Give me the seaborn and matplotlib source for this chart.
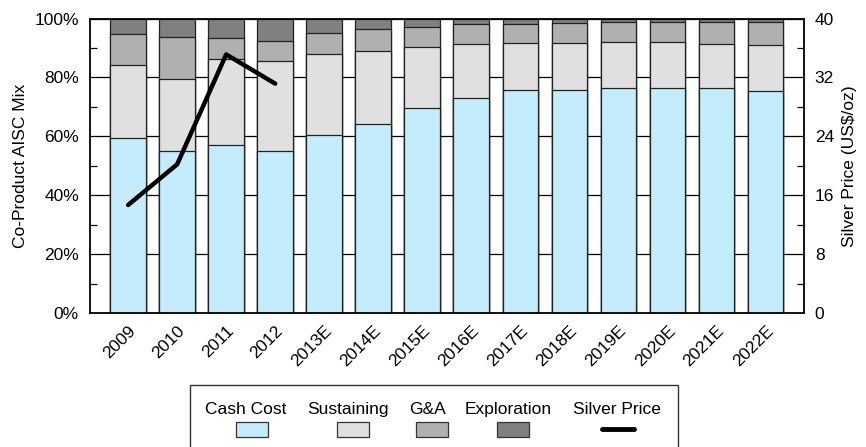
import numpy as np
import pandas as pd
import seaborn as sns
import matplotlib.pyplot as plt
from matplotlib.patches import Rectangle
from matplotlib.lines import Line2D
from matplotlib.ticker import MultipleLocator, PercentFormatter

# ---- data ----
years = ['2009', '2010', '2011', '2012', '2013E', '2014E', '2015E', '2016E',
         '2017E', '2018E', '2019E', '2020E', '2021E', '2022E']
cash_cost = [59.3, 55.1, 57.2, 55.0, 60.4, 64.2, 69.6, 73.1, 75.6, 75.8, 76.3, 76.5, 76.3, 75.4]
sustaining = [24.8, 24.4, 29.2, 30.7, 27.4, 24.9, 20.7, 18.1, 16.2, 16.0, 15.7, 15.5, 15.0, 15.6]
g_and_a = [10.7, 14.3, 6.9, 6.7, 7.3, 7.3, 6.9, 6.8, 6.5, 6.6, 6.7, 6.7, 7.5, 7.7]
exploration = [5.2, 6.2, 6.7, 7.6, 4.9, 3.6, 2.8, 2.0, 1.7, 1.6, 1.3, 1.3, 1.2, 1.3]
silver_price = [14.67, 20.19, 35.12, 31.15]

labels = ['Cash Cost', 'Sustaining', 'G&A', 'Exploration']
colors = ['#C4ECFC', '#E0E0E0', '#B0B0B0', '#808080']

df = pd.DataFrame({'Year': years, 'Cash Cost': cash_cost, 'Sustaining': sustaining,
                   'G&A': g_and_a, 'Exploration': exploration})
cum = df[labels].cumsum(axis=1)

sns.set_style('white')
plt.rcParams['font.family'] = ['Liberation Sans', 'DejaVu Sans']
plt.rcParams['text.color'] = 'black'
plt.rcParams['axes.labelcolor'] = 'black'
plt.rcParams['xtick.color'] = 'black'
plt.rcParams['ytick.color'] = 'black'

fig = plt.figure(figsize=(8.66, 4.47), dpi=100)
ax = fig.add_axes([0.104, 0.2998, 0.824, 0.6588])

# stacked bars: draw cumulative tops from the top layer down
for lab, col in zip(labels[::-1], colors[::-1]):
    sns.barplot(x=df['Year'], y=cum[lab], color=col, width=0.73,
                edgecolor='#222222', linewidth=0.9, saturation=1, ax=ax, zorder=2)

ax.set_ylim(0, 100)
ax.set_xlim(-0.776, len(years) - 1 + 0.776)
ax.yaxis.set_major_locator(MultipleLocator(20))
ax.yaxis.set_minor_locator(MultipleLocator(10))
ax.yaxis.set_major_formatter(PercentFormatter(decimals=0))
ax.set_axisbelow(True)
ax.yaxis.grid(True, which='major', color='black', linewidth=0.9)
ax.tick_params(axis='y', which='both', direction='in', labelsize=12.5, pad=8)
ax.tick_params(axis='y', which='major', length=0)
ax.tick_params(axis='y', which='minor', length=5, width=0.9)
ax.tick_params(axis='x', direction='in', length=7, width=0.9, color='#444444', labelsize=12.5, pad=7)
ax.set_xticks(range(len(years)))
ax.set_xticklabels(years, rotation=45, ha='right', rotation_mode='anchor')
for t in ax.xaxis.get_major_ticks():
    t.tick1line.set_zorder(5)
ax.set_xlabel('')
ax.set_ylabel('Co-Product AISC Mix', fontsize=12.5, labelpad=5)
for s in ax.spines.values():
    s.set_color('black')
    s.set_linewidth(1.3)
    s.set_zorder(6)

# silver price on the right axis
ax2 = ax.twinx()
sns.lineplot(x=np.arange(len(silver_price)), y=silver_price, color='black',
             linewidth=3.2, ax=ax2, solid_capstyle='round')
ax2.set_ylim(0, 40)
ax2.yaxis.set_major_locator(MultipleLocator(8))
ax2.yaxis.set_minor_locator(MultipleLocator(4))
ax2.tick_params(axis='y', which='both', direction='in', labelsize=12.5, pad=8)
ax2.tick_params(axis='y', which='major', length=0)
ax2.tick_params(axis='y', which='minor', length=5, width=0.9)
ax2.set_ylabel('Silver Price (US$/oz)', fontsize=12.5, labelpad=6)
for s in ax2.spines.values():
    s.set_visible(False)

# legend: labels above their keys, inside a box
fig.patches.append(Rectangle((0.2194, -0.01), 0.5635, 0.1487, transform=fig.transFigure,
                             fill=False, edgecolor='#333333', linewidth=1.0))
leg_labels = labels + ['Silver Price']
text_x = [246, 348, 427, 508, 617]
key_x = [252, 353, 432, 513, 618]
for lab, tx in zip(leg_labels, text_x):
    fig.text(tx / 866, 1 - 414 / 447, lab, ha='center', va='baseline', fontsize=12.5)
for col, kx in zip(colors, key_x[:4]):
    fig.patches.append(Rectangle(((kx - 16) / 866, 1 - 436.5 / 447), 32 / 866, 15 / 447,
                                 transform=fig.transFigure, facecolor=col,
                                 edgecolor='#333333', linewidth=0.9))
fig.lines.append(Line2D([(key_x[4] - 16) / 866, (key_x[4] + 16) / 866],
                        [1 - 429 / 447, 1 - 429 / 447], transform=fig.transFigure,
                        color='black', linewidth=3.5, solid_capstyle='round'))

plt.savefig('out.png', dpi=100)
